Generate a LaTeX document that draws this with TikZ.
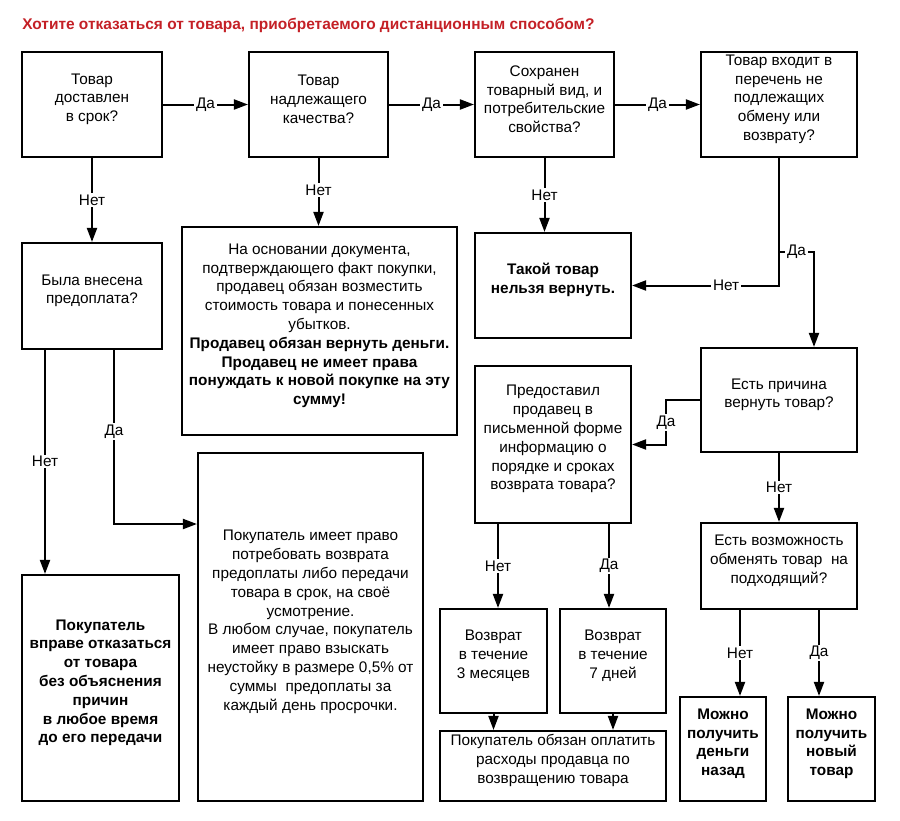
\documentclass[tikz,border=0pt]{standalone}
\usepackage{fontspec}
\setmainfont{Liberation Sans}
\usetikzlibrary{arrows.meta,fit,calc}
\definecolor{titlered}{RGB}{196,32,38}
\begin{document}
\begin{tikzpicture}[x=0.75pt,y=-0.75pt,
 box/.style={draw, line width=1.6pt, inner sep=0pt, align=center, font=\fontsize{11.5}{14.1}\selectfont},
 bbox/.style={box, font=\bfseries\fontsize{11.5}{14.1}\selectfont},
 conn/.style={line width=1.5pt},
 arr/.style={conn, -{Triangle[length=10.5pt,width=7.5pt]}},
 lab/.style={fill=white, inner sep=1.2pt, font=\fontsize{11.5}{12}\selectfont}]
\useasboundingbox (0,0) rectangle (900,821);

\node[anchor=west, inner sep=0pt, text=titlered, font=\bfseries\fontsize{11.6}{13}\selectfont] (title) at (22,25)
 {Хотите отказаться от товара, приобретаемого дистанционным способом?};

% boxes
\node[box, fit={(22,52)(162,157)}] (b1) {Товар\\доставлен\\в срок?};
\node[box, fit={(249,52)(388,157)}] (b2) {Товар\\надлежащего\\качества?};
\node[box, fit={(475,52)(614,157)}] (b3) {Сохранен\\товарный вид, и\\потребительские\\свойства?};
\node[box, fit={(701,52)(857,157)}] (b4) {Товар входит в\\перечень не\\подлежащих\\обмену или\\возврату?};
\node[box, fit={(22,243)(162,349)}] (b5) {Была внесена\\предоплата?};
\node[box, fit={(182,227)(457,435)}] (b6) {На основании документа,\\подтверждающего факт покупки,\\продавец обязан возместить\\стоимость товара и понесенных\\убытков.\\\textbf{Продавец обязан вернуть деньги.}\\\textbf{Продавец не имеет права}\\\textbf{понуждать к новой покупке на эту}\\\textbf{сумму!}};
\node[bbox, fit={(475,233)(631,338)}] (b7) {Такой товар\\нельзя вернуть.};
\node[box, fit={(475,366)(631,523)}] (b8) {Предоставил\\продавец в\\письменной форме\\информацию о\\порядке и сроках\\возврата товара?};
\node[box, fit={(701,348)(857,452)}] (b9) {Есть причина\\вернуть товар?};
\node[box, fit={(701,523)(857,609)}] (b10) {Есть возможность\\обменять товар\ \ на\\подходящий?};
\node[box, fit={(440,609)(547,713)}] (b11) {Возврат\\в течение\\3 месяцев};
\node[box, fit={(560,609)(666,713)}] (b12) {Возврат\\в течение\\7 дней};
\node[box, fit={(440,731)(666,801)}] (b13) {Покупатель обязан оплатить\\расходы продавца по\\возвращению товара};
\node[bbox, fit={(680,697)(766,801)}] (b14) {Можно\\получить\\деньги\\назад};
\node[bbox, fit={(788,697)(875,801)}] (b15) {Можно\\получить\\новый\\товар};
\node[bbox, fit={(22,575)(179,801)}] (b16) {Покупатель\\вправе отказаться\\от товара\\без объяснения\\причин\\в любое время\\до его передачи};
\node[box, fit={(198,453)(423,801)}] (b17) {Покупатель имеет право\\потребовать возврата\\предоплаты либо передачи\\товара в срок, на своё\\усмотрение.\\В любом случае, покупатель\\имеет право взыскать\\неустойку в размере 0,5\% от\\суммы\ \ предоплаты за\\каждый день просрочки.};

% helper coordinates
\coordinate (j1) at (779,252);
\coordinate (c1) at (814,252);
\coordinate (c2) at (666,400);
\coordinate (c3) at (666,444.5);
\coordinate (n5a) at (45,349);
\coordinate (n5b) at (114,349);
\coordinate (n5c) at (114,524);
\coordinate (x8a) at (498,0);
\coordinate (x8b) at (609,0);
\coordinate (x10a) at (740,0);
\coordinate (x10b) at (819,0);

% connectors
\draw[arr] (b1) -- node[lab]{Да} (b2);
\draw[arr] (b2) -- node[lab]{Да} (b3);
\draw[arr] (b3) -- node[lab]{Да} (b4);
\draw[arr] (b1) -- node[lab]{Нет} (b5);
\draw[arr] (b2.south) -- node[lab,pos=0.47]{Нет} (b2.south |- b6.north);
\draw[arr] (b3.south) -- node[lab]{Нет} (b3.south |- b7.north);
\draw[arr] (b4.south) -- (b4.south |- b7.east) -- node[lab,pos=0.36]{Нет} (b7.east);
\draw[arr] (j1) -- node[lab]{Да} (c1) -- (c1 |- b9.north);
\draw[arr] (b9.west) -- (c2) -- node[lab]{Да} (c3) -- (b8.east);
\draw[arr] (b9) -- node[lab]{Нет} (b10);
\draw[arr] (n5a) -- node[lab]{Нет} (n5a |- b16.north);
\draw[arr] (n5b) -- node[lab,pos=0.47]{Да} (n5c) -- (b17.west |- n5c);
\draw[arr] (b8.south -| x8a) -- node[lab]{Нет} (b11.north -| x8a);
\draw[arr] (b8.south -| x8b) -- node[lab]{Да} (b12.north -| x8b);
\draw[arr] (b11.south) -- (b11.south |- b13.north);
\draw[arr] (b12.south) -- (b12.south |- b13.north);
\draw[arr] (b10.south -| x10a) -- node[lab]{Нет} (b14.north -| x10a);
\draw[arr] (b10.south -| x10b) -- node[lab]{Да} (b15.north -| x10b);
\end{tikzpicture}
\end{document}
